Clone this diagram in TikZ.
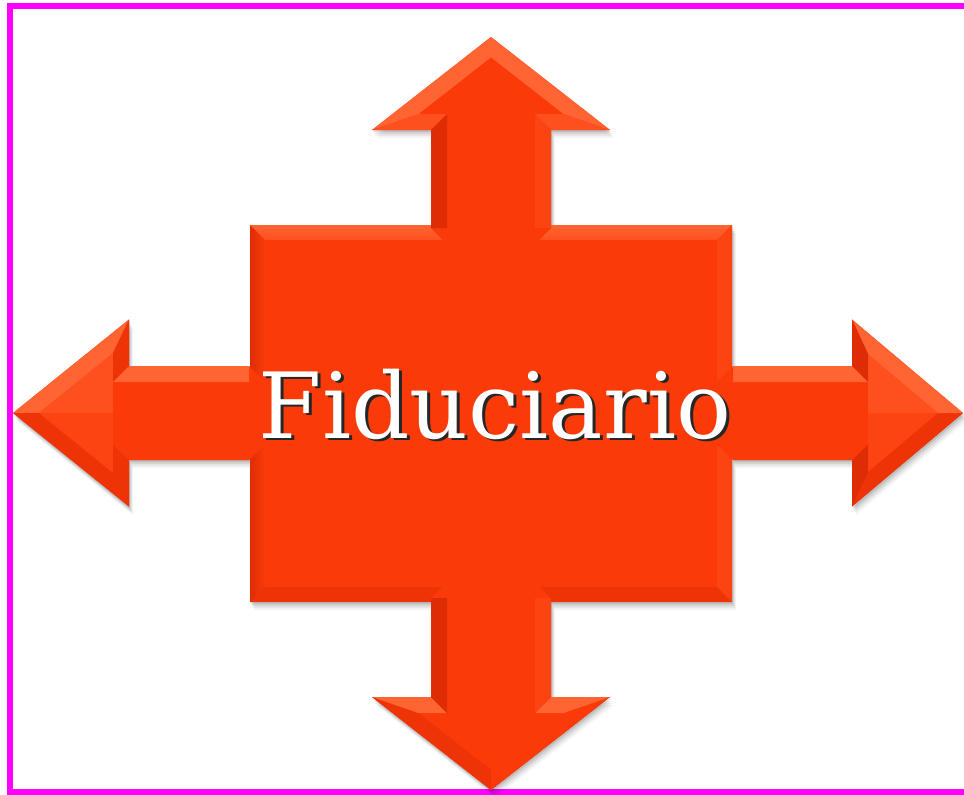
\documentclass[tikz,border=0pt]{standalone}
\usepackage{fontspec}
\newfontfamily\fidfont{DejaVu Serif}
\definecolor{framecol}{RGB}{255,0,255}
\definecolor{basecol}{RGB}{250,58,8}
\definecolor{hione}{RGB}{255,100,50}
\definecolor{hitwo}{RGB}{254,80,30}
\definecolor{midcol}{RGB}{252,68,18}
\definecolor{dkone}{RGB}{238,52,6}
\definecolor{dktwo}{RGB}{222,45,5}
\def\bev{16}
\def\chf{22}
\newcommand\fidarrow[6]{%
 \begin{scope}[shift={(491,413)},x=0.75pt,y=0.75pt,rotate=#1]
 \pgfmathsetmacro\aT{#2}\pgfmathsetmacro\aB{#3}\pgfmathsetmacro\aH{#4}%
 \pgfmathsetmacro\aS{#5}\pgfmathsetmacro\aR{#6}%
 \pgfmathsetmacro\aL{10*veclen(\aH/10,(\aT-\aB)/10)}%
 \pgfmathsetmacro\anx{-(\aT-\aB)/\aL}%
 \pgfmathsetmacro\any{-\aH/\aL}%
 \pgfmathsetmacro\qOv{\aT+\bev*\any-\bev*\anx*(\aB-\aT)/\aH}%
 \pgfmathsetmacro\qIu{\bev*\anx+(\aB+\bev-\aT-\bev*\any)*\aH/(\aB-\aT)}%
 \pgfmathsetmacro\qIv{\aB+\bev}%
 \pgfmathsetmacro\sI{\aS-\bev}%
 \pgfmathsetmacro\rc{\aR+\chf}%
 \pgfmathsetmacro\sc{\aS-\chf}%
 \fill[fill=basecol] (0,\aT)--(\aH,\aB)--(\aS,\aB)--(\aS,\rc)--(\sc,\aR)--(-\sc,\aR)--(-\aS,\rc)--(-\aS,\aB)--(-\aH,\aB)--cycle;
 % inner halves of the head
 \fill[fill=\cRI] (0,\qOv)--(\qIu,\qIv)--(0,\qIv)--cycle;
 \fill[fill=\cLI] (0,\qOv)--(-\qIu,\qIv)--(0,\qIv)--cycle;
 % right facets
 \fill[fill=\cRF] (0,\aT)--(\aH,\aB)--(\qIu,\qIv)--(0,\qOv)--cycle;
 \fill[fill=\cRB] (\aH,\aB)--(\aS,\aB)--(\sI,\qIv)--(\qIu,\qIv)--cycle;
 \fill[fill=\cRS] (\aS,\aB)--(\aS,\rc)--(\sI,\rc)--(\sI,\qIv)--cycle;
 % left facets
 \fill[fill=\cLF] (0,\aT)--(-\aH,\aB)--(-\qIu,\qIv)--(0,\qOv)--cycle;
 \fill[fill=\cLB] (-\aH,\aB)--(-\aS,\aB)--(-\sI,\qIv)--(-\qIu,\qIv)--cycle;
 \fill[fill=\cLS] (-\aS,\aB)--(-\aS,\rc)--(-\sI,\rc)--(-\sI,\qIv)--cycle;
 \end{scope}}
\begin{document}
\begin{tikzpicture}[x=0.75pt,y=-0.75pt]
\useasboundingbox (0,0) rectangle (964,794);
\fill[white] (0,0) rectangle (964,794);
\draw[framecol,line width=4.5pt] (10,6) rectangle (985,791.5);
% soft shadow of the whole cross
\foreach \dx/\dy/\op in {1/2/0.10,2/4/0.08,3/6/0.06,4/8/0.04}{
 \fill[black,opacity=\op,shift={(\dx*0.75pt,-\dy*0.75pt)}]
 (491,37)--(610,130)--(551,130)--(551,225)--(732,225)--(732,367)--(852,367)--(852,320)--(963,413)--(852,507)--(852,460)--(732,460)--(732,602)--(551,602)--(551,697)--(610,697)--(491,790)--(372,697)--(431,697)--(431,602)--(250,602)--(250,460)--(129,460)--(129,507)--(13,413)--(129,320)--(129,367)--(250,367)--(250,225)--(431,225)--(431,130)--(372,130)--cycle;
}
% central rectangle with bevel
\fill[basecol] (250,225) rectangle (732,602);
\shade[top color=hione,bottom color=hitwo] (250,225)--(732,225)--(717,240)--(265,240)--cycle;
\shade[left color=dktwo,right color=basecol] (250,225)--(265,240)--(265,587)--(250,602)--cycle;
\fill[midcol] (732,225)--(732,602)--(717,587)--(717,240)--cycle;
\fill[dkone] (250,602)--(732,602)--(717,587)--(265,587)--cycle;
% up arrow
\def\cRF{hione}\def\cRB{hitwo}\def\cRS{midcol}\def\cRI{basecol}
\def\cLF{hione}\def\cLB{hitwo}\def\cLS{dktwo}\def\cLI{basecol}
\fidarrow{0}{376}{283}{119}{60}{163}
% down arrow
\def\cRF{dkone}\def\cRB{hione}\def\cRS{dktwo}\def\cRI{basecol}
\def\cLF{basecol}\def\cLB{hione}\def\cLS{midcol}\def\cLI{basecol}
\fidarrow{180}{377}{284}{119}{60}{163}
% left arrow
\def\cRF{hione}\def\cRB{dkone}\def\cRS{hione}\def\cRI{hitwo}
\def\cLF{dkone}\def\cLB{dkone}\def\cLS{basecol}\def\cLI{midcol}
\fidarrow{90}{478}{362}{93.5}{47}{220}
% right arrow
\def\cRF{dkone}\def\cRB{dktwo}\def\cRS{basecol}\def\cRI{midcol}
\def\cLF{hione}\def\cLB{dktwo}\def\cLS{hione}\def\cLI{hitwo}
\fidarrow{-90}{472}{361}{93.5}{47}{220}
% label with its drop shadow
\node[anchor=base,text=white,inner sep=0pt,font=\fidfont\fontsize{68.5}{68.5}\selectfont] (lbl) at (495,438)
 {\makebox[0pt][l]{\hspace{2.2pt}\raisebox{-2.2pt}{\textcolor{black!85}{Fiduciario}}}Fiduciario};
\end{tikzpicture}
\end{document}
